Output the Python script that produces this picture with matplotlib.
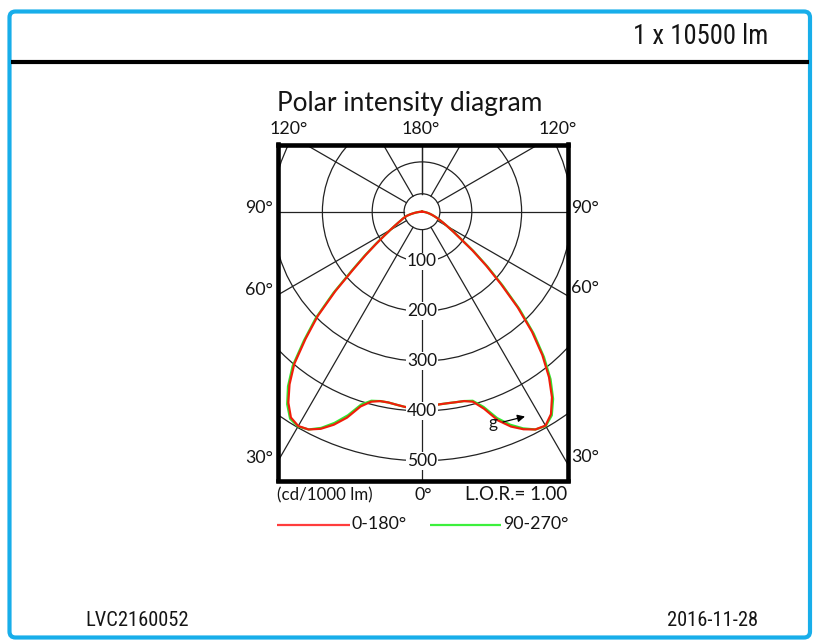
import numpy as np
import matplotlib
matplotlib.use("Agg")
import matplotlib.pyplot as plt
from matplotlib.patches import Circle, FancyBboxPatch
from matplotlib import font_manager
from matplotlib.font_manager import FontProperties

# ---------------- data ----------------
gamma = [0, 2.5, 5, 7.5, 10, 12.5, 15, 17.5, 20, 22.5, 25, 27.5, 30, 32.5, 35,
         37.5, 40, 42.5, 45, 47.5, 50, 52.5, 55, 57.5, 60, 62.5, 65, 67.5, 70,
         72.5, 75, 77.5, 80, 82.5, 85, 87.5, 90]
# C0-C180 plane (red): right half = C0, left half = C180  (cd/1000 lm)
i_c0 = [395, 391, 388.5, 388, 388.5, 389.5, 395, 415, 446, 467, 482, 493, 496,
        482, 455, 419, 376, 327, 272, 215, 168, 128, 94, 74, 59, 48, 39, 32, 26,
        21, 16.5, 12.5, 9, 6, 3.5, 1.5, 0]
i_c180 = [395, 394.5, 393.5, 391, 389, 389.5, 395, 410, 440, 463, 481, 493, 497,
          490, 468, 437, 399, 346, 296, 236, 180, 142, 112, 90, 74, 62, 53, 46,
          41, 36, 31, 24, 17, 11, 6, 2.5, 0]
# C90-C270 plane (green)
i_c90 = [395, 391, 388.5, 388, 388.5, 389.5, 393, 411, 441, 463, 480, 493, 497,
         485, 459, 424, 381, 332, 277, 220, 172, 131, 96, 75, 59, 48, 39, 32, 26,
         21, 16.5, 12.5, 9, 6, 3.5, 1.5, 0]
i_c270 = [395, 394.5, 393.5, 391, 389, 389.5, 393, 406, 435, 459, 479, 493, 498,
          493, 472, 442, 404, 351, 301, 241, 184, 145, 114, 91, 74, 62, 53, 46,
          41, 36, 31, 24, 17, 11, 6, 2.5, 0]

grid_radii = [100, 200, 300, 400, 500]
grid_angles = [-180, -150, -120, -90, -60, -30, 0, 30, 60, 90, 120, 150, 180]

# ---------------- fonts ----------------
def pick_condensed():
    fl = font_manager.fontManager.ttflist
    prefs = ["Liberation Sans Narrow", "Arial Narrow", "Noto Sans Condensed",
             "DejaVu Sans Condensed", "Roboto Condensed", "Open Sans Condensed"]
    for p in prefs:
        for f in fl:
            if f.name == p and f.style == "normal" and f.weight in (400, "normal", "regular"):
                return f.fname
    for f in fl:
        if (f.stretch in ("condensed", "semi-condensed") and f.style == "normal"
                and f.weight in (400, "normal", "regular") and "Mono" not in f.name
                and "Serif" not in f.name):
            return f.fname
    return None


cond_file = pick_condensed()
gill = ["Lato", "DejaVu Sans"]
TXT = "#151515"

W, H = 821, 640
fig = plt.figure(figsize=(W / 100, H / 100), dpi=100)
renderer = fig.canvas.get_renderer()


def fit_text(axis, x, y, s, width_px, ha, fp):
    t = axis.text(x, y, s, ha=ha, va="center", color=TXT, fontproperties=fp)
    t.set_fontsize(10)
    w = t.get_window_extent(renderer=renderer).width
    t.set_fontsize(10 * width_px / w)
    return t


def cond_fp():
    if cond_file:
        return FontProperties(fname=cond_file)
    return FontProperties(family="Liberation Sans")


# background axes in pixel coords for the page frame
bg = fig.add_axes([0, 0, 1, 1])
bg.set_xlim(0, W)
bg.set_ylim(H, 0)
bg.axis("off")
bg.add_patch(FancyBboxPatch((9.5, 11.5), 800.5, 626, boxstyle="round,pad=0,rounding_size=6",
                            fill=False, ec="#18aeea", lw=3.0))
bg.plot([11, 809], [62, 62], color="black", lw=3.0, solid_capstyle="butt")
fit_text(bg, 768, 37, "1 x 10500 lm", 134, "right", cond_fp())
fit_text(bg, 85, 620, "LVC2160052", 103, "left", cond_fp())
fit_text(bg, 758, 620, "2016-11-28", 90, "right", cond_fp())

# ---------------- polar diagram axes ----------------
CX, CY, S = 422.0, 211.7, 0.498          # centre pixel, px per cd
BX0, BX1, BY0, BY1 = 277.5, 567.5, 144.5, 480.5
ax = fig.add_axes([BX0 / W, 1 - BY1 / H, (BX1 - BX0) / W, (BY1 - BY0) / H])
ax.set_xlim((BX0 - CX) / S, (BX1 - CX) / S)
ax.set_ylim((CY - BY1) / S, (CY - BY0) / S)
ax.set_xticks([])
ax.set_yticks([])
for sp in ax.spines.values():
    sp.set_linewidth(3.3)
    sp.set_color("black")

GRID = "#222222"
r0 = 36
ax.add_patch(Circle((0, 0), r0, fill=False, ec=GRID, lw=0.9))
for R in grid_radii:
    ax.add_patch(Circle((0, 0), R, fill=False, ec=GRID, lw=0.9))
for a in grid_angles:
    t = np.radians(a)
    ax.plot([r0 * np.sin(t), 900 * np.sin(t)], [-r0 * np.cos(t), -900 * np.cos(t)],
            color=GRID, lw=0.9)
for R in grid_radii:
    ax.text(0, -R, str(R), ha="center", va="center", fontsize=12.5, family=gill,
            color=TXT, bbox=dict(boxstyle="square,pad=0.05", fc="white", ec="none"))


def curve(left, right):
    g = np.radians(np.array(gamma, float))
    L = np.array(left, float)
    Rr = np.array(right, float)
    x = np.concatenate([-(L * np.sin(g))[::-1], (Rr * np.sin(g))[1:]])
    y = np.concatenate([-(L * np.cos(g))[::-1], -(Rr * np.cos(g))[1:]])
    return x, y


xg, yg = curve(i_c270, i_c90)
ax.plot(xg, yg, color="#2ee82e", lw=1.6, solid_joinstyle="round")
xr, yr = curve(i_c180, i_c0)
ax.plot(xr, yr, color="#f01e0a", lw=1.6, solid_joinstyle="round")

# gamma indicator
ax.text((493 - CX) / S, (CY - 423) / S, "g", ha="center", va="center",
        fontsize=12.5, family=gill, color=TXT)
ax.annotate("", xy=((525 - CX) / S, (CY - 416.5) / S),
            xytext=((503 - CX) / S, (CY - 422) / S),
            arrowprops=dict(arrowstyle="-|>", color="black", lw=0.9,
                            mutation_scale=11, shrinkA=0, shrinkB=0))

# ---------------- labels around the box ----------------
fs = 12.8
gfp = FontProperties(family=gill)
fit_text(bg, 277, 103, "Polar intensity diagram", 265, "left", gfp)
bg.text(270, 129, "120°", ha="left", va="center", fontsize=fs, family=gill, color=TXT)
bg.text(421, 129, "180°", ha="center", va="center", fontsize=fs, family=gill, color=TXT)
bg.text(577, 129, "120°", ha="right", va="center", fontsize=fs, family=gill, color=TXT)
for lab, yl, yr_ in [("90°", 208, 208), ("60°", 290, 288), ("30°", 458, 457)]:
    bg.text(273, yl, lab, ha="right", va="center", fontsize=fs, family=gill, color=TXT)
    bg.text(571, yr_, lab, ha="left", va="center", fontsize=fs, family=gill, color=TXT)

bg.text(277, 495, "(cd/1000 lm)", ha="left", va="center", fontsize=12.2, family=gill, color=TXT)
bg.text(423, 495, "0°", ha="center", va="center", fontsize=fs, family=gill, color=TXT)
bg.text(567, 495, "L.O.R.= 1.00", ha="right", va="center", fontsize=13.5, family=gill, color=TXT)

bg.plot([277, 350], [525, 525], color="#ff3c3c", lw=1.6, solid_capstyle="butt")
bg.text(352, 524, "0-180°", ha="left", va="center", fontsize=fs, family=gill, color=TXT)
bg.plot([430, 501], [525, 525], color="#3cf03c", lw=1.6, solid_capstyle="butt")
bg.text(503, 524, "90-270°", ha="left", va="center", fontsize=fs, family=gill, color=TXT)

fig.savefig("out.png", dpi=100)
